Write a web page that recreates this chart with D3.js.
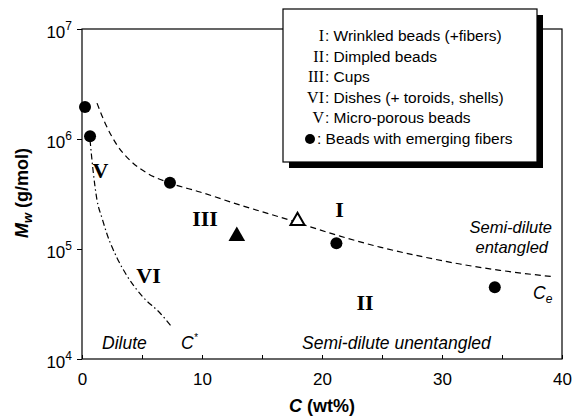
<!DOCTYPE html>
<html>
<head>
<meta charset="utf-8">
<script src="https://cdnjs.cloudflare.com/ajax/libs/d3/7.8.5/d3.min.js"></script>
<style>
  body { margin: 0; background: #fff; }
  svg { display: block; font-family: "Liberation Sans", Arial, sans-serif; }
</style>
</head>
<body>
<div id="chart"></div>
<script>
// ---------- data ----------
var xTicks = [0, 10, 20, 30, 40];
var xMinorTicks = [5, 15, 25, 35];
var yTickExps = [4, 5, 6, 7];

// filled circles : beads with emerging fibers
var circleC = [0.25, 0.67, 7.33, 21.2, 34.4];
var circleMw = [1.95e6, 1.06e6, 4.0e5, 1.13e5, 4.5e4];

// triangles
var triFilledC = [12.9];
var triFilledMw = [1.31e5];
var triOpenC = [17.96];
var triOpenMw = [1.8e5];

// Ce boundary (dashed)
var ceC = [1.25, 1.92, 2.92, 4.0, 5.42, 7.33, 9.83, 13.17, 16.5, 21.5, 24.83, 28.17, 31.5, 34.83, 39.25];
var ceMw = [2.12e6, 1.40e6, 8.8e5, 6.4e5, 4.9e5, 3.98e5, 3.3e5, 2.51e5, 1.95e5, 1.31e5, 1.04e5, 8.6e4, 7.3e4, 6.4e4, 5.6e4];

// C* boundary (dash-dot)
var cStarC = [0.67, 0.92, 1.25, 1.67, 2.08, 2.92, 3.75, 5.08, 6.5, 7.5];
var cStarMw = [9.8e5, 5.2e5, 2.79e5, 1.91e5, 1.37e5, 8.3e4, 5.7e4, 3.66e4, 2.62e4, 1.95e4];

// region numerals
var regionLabels = ['V', 'III', 'VI', 'I', 'II'];
var regionC = [1.54, 10.25, 5.54, 21.46, 23.58];
var regionMw = [4.42e5, 1.62e5, 4.9e4, 1.95e5, 2.79e4];

// legend rows
var legendKeys = ['I', 'II', 'III', 'VI', 'V', '\u25CF'];
var legendTexts = ['Wrinkled beads (+fibers)', 'Dimpled beads', 'Cups',
  'Dishes (+ toroids, shells)', 'Micro-porous beads', 'Beads with emerging fibers'];

// ---------- layout ----------
var attrs = {
  svgWidth: 575,
  svgHeight: 418,
  marginTop: 29,
  marginLeft: 82,
  marginRight: 13,
  marginBottom: 59
};
var calc = {};
calc.chartWidth = attrs.svgWidth - attrs.marginLeft - attrs.marginRight;
calc.chartHeight = attrs.svgHeight - attrs.marginTop - attrs.marginBottom;

// scales
var scales = {};
scales.x = d3.scaleLinear().domain([0, 40]).range([0, calc.chartWidth]);
scales.y = d3.scaleLog().domain([1e4, 1e7]).range([calc.chartHeight, 0]);

var svg = d3.select('#chart').append('svg')
  .attr('width', attrs.svgWidth)
  .attr('height', attrs.svgHeight);

var chart = svg.append('g')
  .attr('transform', 'translate(' + attrs.marginLeft + ',' + attrs.marginTop + ')');

// frame
chart.append('rect')
  .attr('width', calc.chartWidth)
  .attr('height', calc.chartHeight)
  .attr('fill', 'none')
  .attr('stroke', '#000')
  .attr('stroke-width', 1.2);

// ---------- axes ----------
var xAxis = d3.axisBottom(scales.x)
  .tickValues(xTicks.concat(xMinorTicks))
  .tickSizeInner(-4)
  .tickSizeOuter(0)
  .tickPadding(14)
  .tickFormat(function (d) { return xTicks.indexOf(d) >= 0 ? d : ''; });

var xg = chart.append('g')
  .attr('transform', 'translate(0,' + calc.chartHeight + ')')
  .call(xAxis);
xg.select('.domain').remove();
xg.selectAll('text').attr('font-size', 17).attr('font-family', '"Liberation Sans", Arial, sans-serif').attr('fill', '#000');
xg.selectAll('line').attr('stroke', '#000');

var yAxis = d3.axisLeft(scales.y)
  .tickValues(yTickExps.map(function (e) { return Math.pow(10, e); }))
  .tickSize(5)
  .tickFormat('');
var yg = chart.append('g').call(yAxis);
yg.select('.domain').remove();
yg.selectAll('line').attr('stroke', '#000');

// y tick labels 10^n
yTickExps.forEach(function (e) {
  var t = chart.append('text')
    .attr('x', -10)
    .attr('y', scales.y(Math.pow(10, e)) + 9)
    .attr('text-anchor', 'end')
    .attr('font-size', 17);
  t.append('tspan').text('10');
  t.append('tspan').attr('font-size', 12).attr('dy', -8).text(e);
});

// axis titles
var xTitle = svg.append('text')
  .attr('x', attrs.marginLeft + scales.x(20))
  .attr('y', 412)
  .attr('text-anchor', 'middle')
  .attr('font-size', 18)
  .attr('font-weight', 'bold');
xTitle.append('tspan').attr('font-style', 'italic').text('C');
xTitle.append('tspan').text(' (wt%)');

var yTitle = svg.append('text')
  .attr('transform', 'translate(28,193) rotate(-90)')
  .attr('text-anchor', 'middle')
  .attr('font-size', 18)
  .attr('font-weight', 'bold');
yTitle.append('tspan').attr('font-style', 'italic').text('M');
yTitle.append('tspan').attr('font-style', 'italic').attr('font-size', 13).attr('dy', 4).text('w');
yTitle.append('tspan').attr('dy', -4).text(' (g/mol)');

// ---------- boundary curves ----------
var line = d3.line()
  .x(function (d) { return scales.x(d[0]); })
  .y(function (d) { return scales.y(d[1]); })
  .curve(d3.curveMonotoneX);

chart.append('path')
  .datum(d3.zip(ceC, ceMw))
  .attr('d', line)
  .attr('fill', 'none')
  .attr('stroke', '#000')
  .attr('stroke-width', 1.2)
  .attr('stroke-dasharray', '6,4');

chart.append('path')
  .datum(d3.zip(cStarC, cStarMw))
  .attr('d', line)
  .attr('fill', 'none')
  .attr('stroke', '#000')
  .attr('stroke-width', 1.2)
  .attr('stroke-dasharray', '6,3,1.5,3');

// ---------- markers ----------
chart.selectAll('.bead')
  .data(d3.zip(circleC, circleMw))
  .enter().append('circle')
  .attr('class', 'bead')
  .attr('cx', function (d) { return scales.x(d[0]); })
  .attr('cy', function (d) { return scales.y(d[1]); })
  .attr('r', 6)
  .attr('fill', '#000');

chart.selectAll('.tri-filled')
  .data(d3.zip(triFilledC, triFilledMw))
  .enter().append('path')
  .attr('class', 'tri-filled')
  .attr('d', d3.symbol().type(d3.symbolTriangle).size(120))
  .attr('transform', function (d) { return 'translate(' + scales.x(d[0]) + ',' + scales.y(d[1]) + ')'; })
  .attr('fill', '#000');

chart.selectAll('.tri-open')
  .data(d3.zip(triOpenC, triOpenMw))
  .enter().append('path')
  .attr('class', 'tri-open')
  .attr('d', d3.symbol().type(d3.symbolTriangle).size(85))
  .attr('transform', function (d) { return 'translate(' + scales.x(d[0]) + ',' + scales.y(d[1]) + ')'; })
  .attr('fill', '#fff')
  .attr('stroke', '#000')
  .attr('stroke-width', 2);

// ---------- region numerals ----------
chart.selectAll('.region')
  .data(regionLabels)
  .enter().append('text')
  .attr('class', 'region')
  .attr('x', function (d, i) { return scales.x(regionC[i]); })
  .attr('y', function (d, i) { return scales.y(regionMw[i]); })
  .attr('text-anchor', 'middle')
  .attr('font-family', '"Liberation Serif", "Times New Roman", serif')
  .attr('font-weight', 'bold')
  .attr('font-size', 22)
  .text(function (d) { return d; });

// ---------- italic annotations ----------
var notes = chart.append('g')
  .attr('font-style', 'italic')
  .attr('font-size', 17.5);

notes.append('text').attr('x', 470).attr('y', 204).attr('text-anchor', 'end').attr('font-size', 16.5).text('Semi-dilute');
notes.append('text').attr('x', 466).attr('y', 224).attr('text-anchor', 'end').attr('font-size', 16.5).text('entangled');
notes.append('text').attr('x', 220).attr('y', 320).text('Semi-dilute unentangled');
notes.append('text').attr('x', 20).attr('y', 320).text('Dilute');

var cs = notes.append('text').attr('x', 99).attr('y', 320);
cs.append('tspan').text('C');
cs.append('tspan').attr('font-size', 10).attr('dy', -8).text('*');

var ce = notes.append('text').attr('x', 451).attr('y', 270);
ce.append('tspan').attr('font-size', 17.5).text('C');
ce.append('tspan').attr('font-size', 12).attr('dy', 4).text('e');

// ---------- legend ----------
var lg = svg.append('g').attr('transform', 'translate(283,9)');
lg.append('rect')
  .attr('x', 6).attr('y', 6)
  .attr('width', 254).attr('height', 153)
  .attr('fill', '#000');
lg.append('rect')
  .attr('width', 254).attr('height', 153)
  .attr('fill', '#fff')
  .attr('stroke', '#000')
  .attr('stroke-width', 1.2);

legendKeys.forEach(function (k, i) {
  var yy = 32 + i * 20.6;
  var tx = 42;
  if (k === '\u25CF') {
    lg.append('circle').attr('cx', 27).attr('cy', yy - 5).attr('r', 5).attr('fill', '#000');
    tx = 34;
  } else {
    lg.append('text')
      .attr('x', 41).attr('y', yy)
      .attr('text-anchor', 'end')
      .attr('font-family', '"Liberation Serif", "Times New Roman", serif')
      .attr('font-size', 16)
      .text(k);
  }
  lg.append('text')
    .attr('x', tx).attr('y', yy)
    .attr('font-size', 15.5)
    .text(': ' + legendTexts[i]);
});
</script>
</body>
</html>
